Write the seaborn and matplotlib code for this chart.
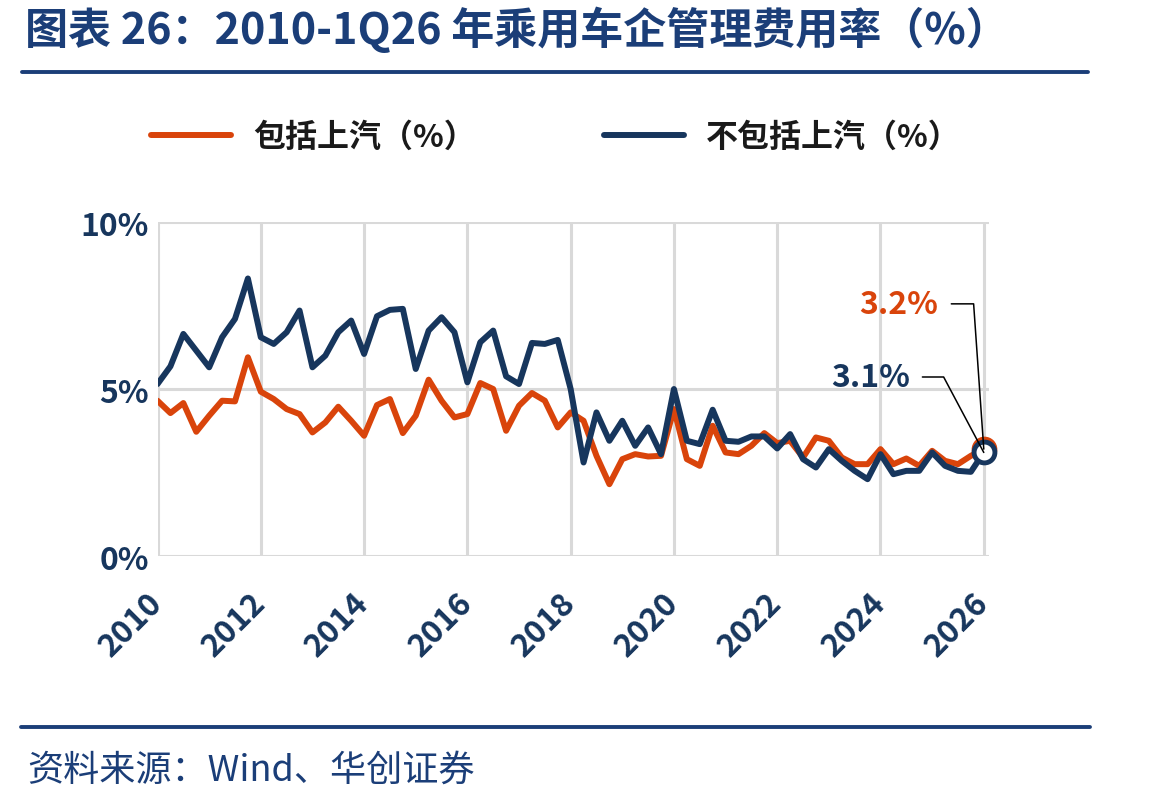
import numpy as np
import pandas as pd
import matplotlib
matplotlib.use("Agg")
import matplotlib.pyplot as plt
import seaborn as sns
from matplotlib.lines import Line2D

# quarterly data, 2010Q1 .. 2026Q1
quarters = 2010 + 0.25 * np.arange(65)

incl_saic = [4.65, 4.28, 4.58, 3.72, 4.20, 4.65, 4.63, 5.95, 4.92, 4.70, 4.40, 4.25, 3.70,
             4.00, 4.47, 4.05, 3.60, 4.52, 4.70, 3.68, 4.20, 5.28, 4.65, 4.15, 4.25, 5.18,
             5.00, 3.75, 4.50, 4.88, 4.65, 3.85, 4.30, 4.05, 3.00, 2.15, 2.90, 3.05, 2.98,
             3.00, 4.40, 2.90, 2.70, 3.90, 3.10, 3.05, 3.30, 3.68, 3.38, 3.45, 2.95, 3.55,
             3.45, 2.95, 2.75, 2.75, 3.20, 2.75, 2.92, 2.70, 3.15, 2.85, 2.75, 3.00, 3.20]

excl_saic = [5.15, 5.68, 6.65, 6.15, 5.65, 6.55, 7.10, 8.31, 6.55, 6.35, 6.70, 7.35, 5.65,
             6.00, 6.70, 7.05, 6.05, 7.18, 7.37, 7.40, 5.60, 6.75, 7.15, 6.70, 5.20, 6.40,
             6.75, 5.38, 5.15, 6.38, 6.35, 6.47, 5.00, 2.80, 4.30, 3.45, 4.05, 3.30, 3.85,
             3.05, 5.00, 3.45, 3.35, 4.38, 3.45, 3.42, 3.58, 3.58, 3.22, 3.65, 2.90, 2.65,
             3.20, 2.85, 2.55, 2.30, 3.05, 2.45, 2.55, 2.55, 3.10, 2.70, 2.55, 2.52, 3.10]

series_names = ["包括上汽（%）", "不包括上汽（%）"]
x_ticks = list(range(2010, 2027, 2))
y_ticks = [0, 5, 10]
y_ticklabels = ["0%", "5%", "10%"]

ORANGE = "#D9440B"
NAVY = "#17365D"
RULE = "#1B3E78"

df = pd.DataFrame({
    "quarter": np.concatenate([quarters, quarters]),
    "value": incl_saic + excl_saic,
    "series": [series_names[0]] * len(quarters) + [series_names[1]] * len(quarters),
})

sns.set_theme(style="white")
plt.rcParams["font.family"] = ["Noto Sans CJK SC", "DejaVu Sans"]

fig = plt.figure(figsize=(11.49, 8.04), dpi=100)
ax = fig.add_axes([0.1371, 0.3072, 0.8607 - 0.1371, 0.7226 - 0.3072])

sns.lineplot(data=df, x="quarter", y="value", hue="series",
             palette={series_names[0]: ORANGE, series_names[1]: NAVY},
             linewidth=4.3, legend=False, ax=ax)

# end markers
ax.plot(quarters[-1], incl_saic[-1], "o", ms=15, mfc="white", mec=ORANGE, mew=3.5,
        clip_on=False, zorder=5)
ax.plot(quarters[-1], excl_saic[-1], "o", ms=15, mfc="white", mec=NAVY, mew=3.5,
        clip_on=False, zorder=6)

ax.set_xlim(2010, 2026.1)
ax.set_ylim(0, 10)
ax.set_xticks(x_ticks)
ax.set_yticks(y_ticks)
ax.set_yticklabels(y_ticklabels)
ax.grid(True, color="#D9D9D9", linewidth=2.2)
ax.set_axisbelow(True)
for s in ax.spines.values():
    s.set_visible(False)
ax.set_xlabel("")
ax.set_ylabel("")

ax.tick_params(axis="y", length=0, pad=6, labelsize=23, labelcolor=NAVY)
ax.tick_params(axis="x", length=0, pad=30, labelsize=23, labelcolor=NAVY)
for lab in ax.get_yticklabels():
    lab.set_fontweight("bold")
for lab in ax.get_xticklabels():
    lab.set_fontweight("bold")
    lab.set_rotation(45)
    lab.set_rotation_mode("anchor")
    lab.set_ha("right")
    lab.set_va("center")

# value call-outs
ax.annotate(f"{incl_saic[-1]:.1f}%", xy=(quarters[-1], incl_saic[-1]), xytext=(2024.36, 7.55),
            ha="center", va="center", fontsize=23, fontweight="bold", color=ORANGE,
            bbox=dict(boxstyle="square,pad=0.4", fc="none", ec="none"),
            arrowprops=dict(arrowstyle="-", color="black", lw=1.1, shrinkA=0, shrinkB=0,
                            connectionstyle="angle,angleA=0,angleB=94,rad=0"),
            zorder=8, annotation_clip=False)
ax.annotate(f"{excl_saic[-1]:.1f}%", xy=(quarters[-1], excl_saic[-1]), xytext=(2023.8, 5.36),
            ha="center", va="center", fontsize=23, fontweight="bold", color=NAVY,
            bbox=dict(boxstyle="square,pad=0.4", fc="none", ec="none"),
            arrowprops=dict(arrowstyle="-", color="black", lw=1.1, shrinkA=0, shrinkB=0,
                            connectionstyle="angle,angleA=0,angleB=118,rad=0"),
            zorder=8, annotation_clip=False)

# legend
handles = [Line2D([0], [0], color=ORANGE, lw=4.3), Line2D([0], [0], color=NAVY, lw=4.3)]
leg = fig.legend(handles, series_names, loc="center", bbox_to_anchor=(0.484, 0.828), ncol=2,
                 frameon=False, handlelength=2.5, handletextpad=0.7, columnspacing=4.0,
                 prop={"size": 23, "weight": "bold"})
for t in leg.get_texts():
    t.set_color("#1a1a1a")

# title, rules and source
fig.text(0.022, 0.963, "图表 26：2010-1Q26 年乘用车企管理费用率（%）", fontsize=31,
         fontweight="bold", color=RULE, ha="left", va="center")
fig.add_artist(Line2D([0.019, 0.947], [0.909, 0.909], color=RULE, lw=2.8))
fig.add_artist(Line2D([0.018, 0.949], [0.0945, 0.0945], color=RULE, lw=2.8))
fig.text(0.024, 0.042, "资料来源：Wind、华创证券", fontsize=26, style="italic",
         color=RULE, ha="left", va="center")

fig.savefig("out.png", dpi=100)
